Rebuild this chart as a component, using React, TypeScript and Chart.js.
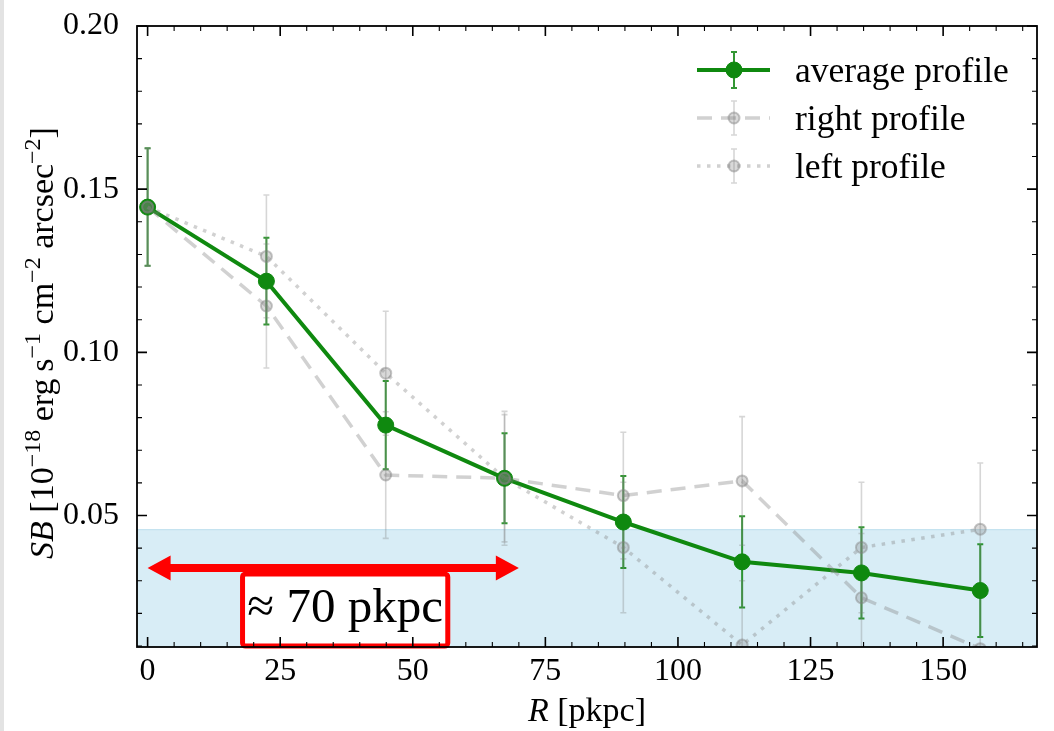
import React, { useEffect, useRef } from "react";
import { Chart, registerables } from "chart.js";

Chart.register(...registerables);

// ---------------- data ----------------
const radius = [0, 22.4, 44.9, 67.3, 89.7, 112.1, 134.6, 157.0];
const averageSB = [0.1445, 0.1218, 0.0777, 0.0614, 0.048, 0.0358, 0.0324, 0.027];
const averageErr = [0.018, 0.0133, 0.0135, 0.0138, 0.0141, 0.014, 0.014, 0.0142];
const rightSB = [0.1445, 0.1142, 0.0624, 0.0614, 0.0561, 0.0606, 0.0248, 0.0092];
const rightErr = [0.018, 0.019, 0.0194, 0.0195, 0.0194, 0.0197, 0.0197, 0.02];
const leftSB = [0.1445, 0.1294, 0.0936, 0.0614, 0.0402, 0.0103, 0.0402, 0.0458];
const leftErr = [0.018, 0.0188, 0.019, 0.0205, 0.02, 0.0197, 0.02, 0.0203];

const seriesLabels = ["average profile", "right profile", "left profile"];
const xTickStep = 25;
const yTickStep = 0.05;
const X_MIN = -2;
const X_MAX = 167.7;
const Y_MIN = 0.0097;
const Y_MAX = 0.2;
const SHADE_TOP = 0.0458;

// annotation (data units)
const ARROW_X = [0, 70];
const ARROW_Y = 0.0339;
const BOX_X = [17.9, 56.6];
const BOX_Y = [0.0321, 0.01];
const BOX_TEXT = "≈ 70 pkpc";

const GREEN = "#0f890f";
const GREEN_ERR = "rgba(0,125,0,0.8)";
const GRAY_LINE = "rgba(128,128,128,0.36)";
const GRAY_FILL = "rgba(128,128,128,0.3)";
const GRAY_EDGE = "rgba(128,128,128,0.45)";
const GRAY_ERR = "rgba(128,128,128,0.32)";
const FONT = "'Liberation Serif', 'Times New Roman', serif";

const pts = (ys: number[]) => radius.map((r, i) => ({ x: r, y: ys[i] }));

function drawErr(ctx: CanvasRenderingContext2D, xs: any, ys: any, vals: number[], errs: number[], color: string, lw: number, cap: number) {
  ctx.strokeStyle = color;
  ctx.lineWidth = lw;
  for (let i = 0; i < radius.length; i++) {
    const px = xs.getPixelForValue(radius[i]);
    const p1 = ys.getPixelForValue(vals[i] + errs[i]);
    const p2 = ys.getPixelForValue(vals[i] - errs[i]);
    ctx.beginPath();
    ctx.moveTo(px, p1);
    ctx.lineTo(px, p2);
    ctx.moveTo(px - cap, p1);
    ctx.lineTo(px + cap, p1);
    ctx.moveTo(px - cap, p2);
    ctx.lineTo(px + cap, p2);
    ctx.stroke();
  }
}

const customPlugin = {
  id: "custom",
  beforeDraw(chart: any) {
    const { ctx, width, height } = chart;
    ctx.save();
    ctx.fillStyle = "#ffffff";
    ctx.fillRect(0, 0, width, height);
    ctx.fillStyle = "#e3e3e3";
    ctx.fillRect(0, 0, 4, height);
    ctx.restore();
  },
  beforeDatasetsDraw(chart: any) {
    const { ctx, chartArea: a, scales } = chart;
    const xs = scales.x;
    const ys = scales.y;
    ctx.save();
    ctx.beginPath();
    ctx.rect(a.left, a.top, a.right - a.left, a.bottom - a.top);
    ctx.clip();
    const yt = ys.getPixelForValue(SHADE_TOP);
    ctx.fillStyle = "#d8edf6";
    ctx.fillRect(a.left, yt, a.right - a.left, a.bottom - yt);
    ctx.strokeStyle = "#bfe0ee";
    ctx.lineWidth = 1;
    ctx.beginPath();
    ctx.moveTo(a.left, yt + 0.5);
    ctx.lineTo(a.right, yt + 0.5);
    ctx.stroke();
    drawErr(ctx, xs, ys, averageSB, averageErr, GREEN_ERR, 2, 3);
    drawErr(ctx, xs, ys, rightSB, rightErr, GRAY_ERR, 1.6, 3);
    drawErr(ctx, xs, ys, leftSB, leftErr, GRAY_ERR, 1.6, 3);
    ctx.restore();
  },
  afterDatasetsDraw(chart: any) {
    const { ctx, chartArea: a, scales } = chart;
    const xs = scales.x;
    const ys = scales.y;
    ctx.save();

    // arrow
    const ax0 = xs.getPixelForValue(ARROW_X[0]);
    const ax1 = xs.getPixelForValue(ARROW_X[1]);
    const ay = ys.getPixelForValue(ARROW_Y);
    const hl = 23, hh = 12.5, st = 4;
    ctx.fillStyle = "#ff0000";
    ctx.beginPath();
    ctx.moveTo(ax0, ay);
    ctx.lineTo(ax0 + hl, ay - hh);
    ctx.lineTo(ax0 + hl, ay - st);
    ctx.lineTo(ax1 - hl, ay - st);
    ctx.lineTo(ax1 - hl, ay - hh);
    ctx.lineTo(ax1, ay);
    ctx.lineTo(ax1 - hl, ay + hh);
    ctx.lineTo(ax1 - hl, ay + st);
    ctx.lineTo(ax0 + hl, ay + st);
    ctx.lineTo(ax0 + hl, ay + hh);
    ctx.closePath();
    ctx.fill();

    // text box
    const bx0 = xs.getPixelForValue(BOX_X[0]);
    const bx1 = xs.getPixelForValue(BOX_X[1]);
    const by0 = ys.getPixelForValue(BOX_Y[0]);
    const by1 = ys.getPixelForValue(BOX_Y[1]);
    ctx.beginPath();
    (ctx as any).roundRect(bx0, by0, bx1 - bx0, by1 - by0, 3);
    ctx.fillStyle = "#ffffff";
    ctx.fill();
    ctx.lineWidth = 5;
    ctx.strokeStyle = "#ff0000";
    ctx.stroke();
    ctx.fillStyle = "#000";
    ctx.font = `49px ${FONT}`;
    ctx.textAlign = "center";
    ctx.textBaseline = "alphabetic";
    ctx.fillText(BOX_TEXT, (bx0 + bx1) / 2, by1 - 24);

    // frame
    ctx.strokeStyle = "#000";
    ctx.lineWidth = 1.8;
    ctx.strokeRect(a.left, a.top, a.right - a.left, a.bottom - a.top);

    // ticks
    const majL = 10, minL = 5;
    const xMajor = xs.ticks.map((t: any) => t.value);
    const yMajor = ys.ticks.map((t: any) => t.value);
    ctx.lineWidth = 1.6;
    ctx.beginPath();
    for (const v of xMajor) {
      const p = xs.getPixelForValue(v);
      ctx.moveTo(p, a.bottom); ctx.lineTo(p, a.bottom - majL);
      ctx.moveTo(p, a.top); ctx.lineTo(p, a.top + majL);
    }
    for (const v of yMajor) {
      const p = ys.getPixelForValue(v);
      ctx.moveTo(a.left, p); ctx.lineTo(a.left + majL, p);
      ctx.moveTo(a.right, p); ctx.lineTo(a.right - majL, p);
    }
    ctx.stroke();
    ctx.lineWidth = 1.1;
    ctx.beginPath();
    for (let v = Math.ceil(X_MIN / 5) * 5; v <= X_MAX; v += 5) {
      if (v % 25 === 0) continue;
      const p = xs.getPixelForValue(v);
      ctx.moveTo(p, a.bottom); ctx.lineTo(p, a.bottom - minL);
      ctx.moveTo(p, a.top); ctx.lineTo(p, a.top + minL);
    }
    for (let k = Math.ceil(Y_MIN * 100); k <= Math.round(Y_MAX * 100); k++) {
      if (k % 5 === 0) continue;
      const p = ys.getPixelForValue(k / 100);
      ctx.moveTo(a.left, p); ctx.lineTo(a.left + minL, p);
      ctx.moveTo(a.right, p); ctx.lineTo(a.right - minL, p);
    }
    ctx.stroke();

    // x title
    ctx.fillStyle = "#000";
    ctx.textBaseline = "alphabetic";
    ctx.textAlign = "left";
    const xtParts: [string, string][] = [["R", `italic 34px ${FONT}`], [" [pkpc]", `34px ${FONT}`]];
    let tw = 0;
    for (const [t, f] of xtParts) { ctx.font = f; tw += ctx.measureText(t).width; }
    let cx = (a.left + a.right) / 2 - tw / 2;
    for (const [t, f] of xtParts) { ctx.font = f; ctx.fillText(t, cx, 721); cx += ctx.measureText(t).width; }

    // y title
    const N = `34px ${FONT}`;
    const I = `italic 34px ${FONT}`;
    const S = `24px ${FONT}`;
    const ytParts: [string, string, number][] = [
      ["SB", I, 0], [" [10", N, 0], ["\u221218", S, -13], [" erg\u2009s", N, 0], ["\u22121", S, -13],
      [" cm", N, 0], ["\u22122", S, -13], [" arcsec", N, 0], ["\u22122", S, -13], ["]", N, 0],
    ];
    tw = 0;
    for (const [t, f] of ytParts) { ctx.font = f; tw += ctx.measureText(t).width; }
    ctx.translate(53, 343);
    ctx.rotate(-Math.PI / 2);
    cx = -tw / 2;
    for (const [t, f, dy] of ytParts) { ctx.font = f; ctx.fillText(t, cx, dy); cx += ctx.measureText(t).width; }
    ctx.setTransform(1, 0, 0, 1, 0, 0);

    // legend
    const rows = [a.top + 44, a.top + 92, a.top + 140];
    const lx0 = a.right - 340, lx1 = a.right - 267, mx = a.right - 303, tx = a.right - 242;
    const dsets = chart.data.datasets;
    rows.forEach((ry, i) => {
      const ds = dsets[i];
      const eh = i === 0 ? 18 : 17;
      ctx.strokeStyle = i === 0 ? GREEN_ERR : GRAY_ERR;
      ctx.lineWidth = i === 0 ? 2 : 1.6;
      ctx.setLineDash([]);
      ctx.beginPath();
      ctx.moveTo(mx, ry - eh); ctx.lineTo(mx, ry + eh);
      ctx.moveTo(mx - 3, ry - eh); ctx.lineTo(mx + 3, ry - eh);
      ctx.moveTo(mx - 3, ry + eh); ctx.lineTo(mx + 3, ry + eh);
      ctx.stroke();
      ctx.strokeStyle = ds.borderColor;
      ctx.lineWidth = ds.borderWidth;
      ctx.setLineDash(ds.borderDash || []);
      ctx.beginPath();
      ctx.moveTo(lx0, ry); ctx.lineTo(lx1, ry);
      ctx.stroke();
      ctx.setLineDash([]);
      ctx.beginPath();
      ctx.arc(mx, ry, ds.pointRadius, 0, Math.PI * 2);
      ctx.fillStyle = ds.pointBackgroundColor;
      ctx.fill();
      ctx.lineWidth = ds.pointBorderWidth;
      ctx.strokeStyle = ds.pointBorderColor;
      ctx.stroke();
      ctx.fillStyle = "#000";
      ctx.font = `35.5px ${FONT}`;
      ctx.textAlign = "left";
      ctx.textBaseline = "alphabetic";
      ctx.fillText(ds.label, tx, ry + 12);
    });

    ctx.restore();
  },
};

export default function App() {
  const ref = useRef<HTMLCanvasElement>(null);
  useEffect(() => {
    document.body.style.margin = "0";
    Chart.defaults.font.family = FONT;
    const chart = new Chart(ref.current as HTMLCanvasElement, {
      type: "line",
      data: {
        datasets: [
          {
            label: seriesLabels[0],
            data: pts(averageSB),
            borderColor: GREEN,
            backgroundColor: GREEN,
            borderWidth: 4,
            pointRadius: 8,
            pointBackgroundColor: GREEN,
            pointBorderColor: GREEN,
            pointBorderWidth: 1,
            tension: 0,
            order: 2,
            clip: 0,
          } as any,
          {
            label: seriesLabels[1],
            data: pts(rightSB),
            borderColor: GRAY_LINE,
            borderDash: [15, 9],
            borderWidth: 3.5,
            pointRadius: 5.5,
            pointBackgroundColor: GRAY_FILL,
            pointBorderColor: GRAY_EDGE,
            pointBorderWidth: 2,
            tension: 0,
            order: 1,
            clip: 0,
          } as any,
          {
            label: seriesLabels[2],
            data: pts(leftSB),
            borderColor: GRAY_LINE,
            borderDash: [3.5, 6.5],
            borderWidth: 3.5,
            pointRadius: 5.5,
            pointBackgroundColor: GRAY_FILL,
            pointBorderColor: GRAY_EDGE,
            pointBorderWidth: 2,
            tension: 0,
            order: 0,
            clip: 0,
          } as any,
        ],
      },
      options: {
        animation: false,
        responsive: false,
        devicePixelRatio: 1,
        layout: { padding: { top: 19, right: 17, left: 0, bottom: 0 } },
        plugins: { legend: { display: false }, tooltip: { enabled: false }, title: { display: false } },
        scales: {
          x: {
            type: "linear",
            min: X_MIN,
            max: X_MAX,
            grid: { display: false },
            border: { display: false },
            ticks: {
              stepSize: xTickStep,
              includeBounds: false,
              autoSkip: false,
              maxRotation: 0,
              color: "#000",
              padding: 1,
              font: { size: 32, lineHeight: 1 },
              callback: (v: any) => String(v),
            },
            afterFit: (s: any) => { s.height = 84; },
          },
          y: {
            type: "linear",
            min: Y_MIN,
            max: Y_MAX,
            grid: { display: false },
            border: { display: false },
            ticks: {
              stepSize: yTickStep,
              includeBounds: false,
              autoSkip: false,
              color: "#000",
              padding: 10,
              font: { size: 32, lineHeight: 1 },
              callback: (v: any) => Number(v).toFixed(2),
            },
            afterFit: (s: any) => { s.width = 137; },
          },
        },
      } as any,
      plugins: [customPlugin],
    });
    return () => chart.destroy();
  }, []);
  return (
    <div style={{ width: 1054, height: 731 }}>
      <canvas ref={ref} width={1054} height={731} style={{ display: "block" }} />
    </div>
  );
}
